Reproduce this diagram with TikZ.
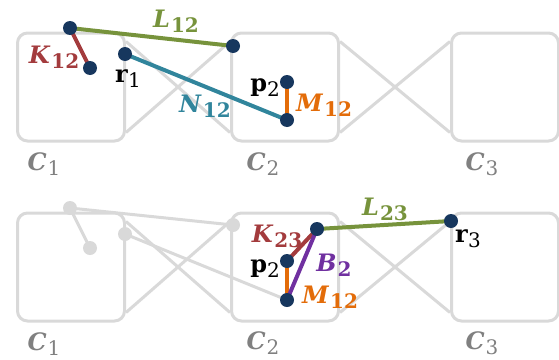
\documentclass[tikz,border=0pt]{standalone}
\usepackage{fontspec}
\setmainfont{DejaVu Serif}
\usepackage{tikz}
\usetikzlibrary{calc}
\definecolor{kred}{HTML}{A33B3D}
\definecolor{lgreen}{HTML}{77933C}
\definecolor{nteal}{HTML}{31859C}
\definecolor{morange}{HTML}{E36C09}
\definecolor{bpurple}{HTML}{7030A0}
\definecolor{navy}{HTML}{17375E}
\definecolor{lgray}{HTML}{D9D9D9}
\definecolor{dgray}{HTML}{808080}
% labels with large subscripts
\newcommand{\lbl}[2]{\textbf{\textit{#1}}\kern1pt\raisebox{-5pt}{\fontsize{20}{20}\selectfont\bfseries #2}}
\newcommand{\vbl}[2]{\textbf{#1}\raisebox{-5pt}{\fontsize{20}{20}\selectfont #2}}
\newcommand{\cbl}[2]{\textbf{\textit{#1}}\kern1pt\raisebox{-5pt}{\fontsize{20}{20}\selectfont #2}}

\begin{document}
\begin{tikzpicture}[
    x=1pt,y=-1pt,
    cell/.style={draw=lgray,line width=3pt,rounded corners=10pt,minimum width=107pt,minimum height=108pt},
    wire/.style={lgray,line width=3pt},
    link/.style={line width=4pt},
    dot/.style={circle,fill=navy,inner sep=0pt,minimum size=14pt},
    ghost/.style={circle,fill=lgray,inner sep=0pt,minimum size=14pt},
    lab/.style={font=\fontsize{24}{28}\selectfont,inner sep=0pt}
]
\useasboundingbox (0,0) rectangle (559,359);

% top row
\node[cell] (c1) at (71,87) {};
\node[cell] (c2) at (285,87) {};
\node[cell] (c3) at (505,87) {};
\draw[wire] ([yshift=-10pt]c1.north east) -- ([yshift=10pt]c2.south west);
\draw[wire] ([yshift=10pt]c1.south east) -- ([yshift=-10pt]c2.north west);
\draw[wire] ([yshift=-10pt]c2.north east) -- ([yshift=10pt]c3.south west);
\draw[wire] ([yshift=10pt]c2.south east) -- ([yshift=-10pt]c3.north west);

\coordinate (k1) at (70,28);
\coordinate (k2) at (90,68);
\coordinate (l2) at (233,46);
\coordinate (r1) at (125,54);
\coordinate (p2) at (287,82);
\coordinate (m2) at (287,120);

\draw[link,kred] (k1) -- (k2);
\draw[link,lgreen] (k1) -- (l2);
\draw[link,nteal] (r1) -- (m2);
\draw[link,morange] (p2) -- (m2);
\foreach \p in {k1,k2,l2,r1,p2,m2} \node[dot] at (\p) {};

\node[lab,kred] (lk) at (54,57) {\lbl{K}{12}};
\node[lab,lgreen] (ll) at (176,21) {\lbl{L}{12}};
\node[lab,nteal] (ln) at (205,106) {\lbl{N}{12}};
\node[lab,morange] (lm) at (324,105) {\lbl{M}{12}};
\node[lab] (lr) at (128,79) {\vbl{r}{1}};
\node[lab] (lp) at (265,88) {\vbl{p}{2}};
\node[lab,dgray] (n1) at (44,164) {\cbl{C}{1}};
\node[lab,dgray] (n2) at (263,164) {\cbl{C}{2}};
\node[lab,dgray] (n3) at (482,164) {\cbl{C}{3}};

% bottom row
\node[cell] (d1) at (71,267) {};
\node[cell] (d2) at (285,267) {};
\node[cell] (d3) at (505,267) {};
\draw[wire] ([yshift=-10pt]d1.north east) -- ([yshift=10pt]d2.south west);
\draw[wire] ([yshift=10pt]d1.south east) -- ([yshift=-10pt]d2.north west);
\draw[wire] ([yshift=-10pt]d2.north east) -- ([yshift=10pt]d3.south west);
\draw[wire] ([yshift=10pt]d2.south east) -- ([yshift=-10pt]d3.north west);

\coordinate (g1) at (70,208);
\coordinate (g2) at (90,248);
\coordinate (g3) at (233,225);
\coordinate (g4) at (125,234);
\coordinate (q2) at (287,261);
\coordinate (q3) at (287,300);
\coordinate (s2) at (317,229);
\coordinate (r3) at (451,221);

\draw[wire] (g1) -- (g2);
\draw[wire] (g1) -- (g3);
\draw[wire] (g4) -- (q3);
\foreach \p in {g1,g2,g3,g4} \node[ghost] at (\p) {};

\draw[link,morange] (q2) -- (q3);
\draw[link,kred] (q2) -- (s2);
\draw[link,bpurple] (q3) -- (s2);
\draw[link,lgreen] (s2) -- (r3);
\foreach \p in {q2,q3,s2,r3} \node[dot] at (\p) {};

\node[lab,kred] (lk2) at (277,236) {\lbl{K}{23}};
\node[lab,lgreen] (ll2) at (385,209) {\lbl{L}{23}};
\node[lab,bpurple] (lb) at (334,265) {\lbl{B}{2}};
\node[lab,morange] (lm2) at (330,297) {\lbl{M}{12}};
\node[lab] (lp2) at (265,269) {\vbl{p}{2}};
\node[lab] (lr3) at (468,239) {\vbl{r}{3}};
\node[lab,dgray] (e1) at (44,344) {\cbl{C}{1}};
\node[lab,dgray] (e2) at (263,343) {\cbl{C}{2}};
\node[lab,dgray] (e3) at (482,343) {\cbl{C}{3}};
\end{tikzpicture}
\end{document}
